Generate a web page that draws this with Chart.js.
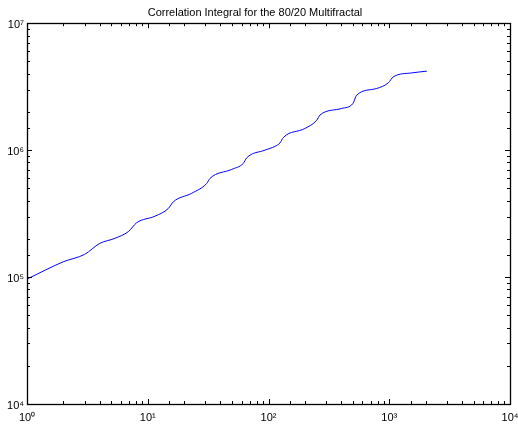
<!DOCTYPE html>
<html><head><meta charset="utf-8">
<script src="https://cdn.jsdelivr.net/npm/chart.js@4"></script>
<style>html,body{margin:0;padding:0;background:#fff}#wrap{width:518px;height:427px}</style>
</head><body><div id="wrap"><canvas id="c" width="518" height="427"></canvas></div>
<script>
const chartTitle = 'Correlation Integral for the 80/20 Multifractal';
const xValues = [1, 2, 3, 4, 5.35, 6.9, 8.1, 11.5, 14.8, 16.3, 23, 30.8, 32.8, 49.6, 61.8, 66, 93.5, 113, 124.5, 133, 200, 251, 267, 404, 500, 537, 787, 982, 1081, 1535, 2048];
const yValues = [9.64e4, 1.32e5, 1.51e5, 1.84e5, 2.02e5, 2.28e5, 2.68e5, 3.02e5, 3.47e5, 3.92e5, 4.56e5, 5.47e5, 5.99e5, 7.05e5, 7.86e5, 8.69e5, 1.0e6, 1.07e6, 1.14e6, 1.26e6, 1.48e6, 1.72e6, 1.89e6, 2.13e6, 2.33e6, 2.71e6, 3.06e6, 3.39e6, 3.78e6, 4.06e6, 4.19e6];
const xTickValues = [1, 10, 100, 1000, 10000];
const xTickLabels = ['10\u2070', '10\u00b9', '10\u00b2', '10\u00b3', '10\u2074'];
const yTickValues = [1e4, 1e5, 1e6, 1e7];
const yTickLabels = ['10\u2074', '10\u2075', '10\u2076', '10\u2077'];

const FONT = 'Liberation Sans, Arial, Helvetica, sans-serif';
function isMajor(v){ const l = Math.log10(v); return Math.abs(l - Math.round(l)) < 1e-9; }
function labelFor(v, vals, labels){
  for (let i = 0; i < vals.length; i++) if (Math.abs(Math.log10(v) - Math.log10(vals[i])) < 1e-9) return labels[i];
  return '';
}

const frame = {
  id: 'frame',
  afterDatasetsDraw(chart){
    const {ctx, chartArea: a, scales: {x, y}} = chart;
    ctx.save();
    ctx.strokeStyle = '#000';
    ctx.lineWidth = 1;
    ctx.beginPath();
    x.ticks.forEach(t => {
      const px = Math.round(x.getPixelForValue(t.value)) + 0.5;
      const L = isMajor(t.value) ? 5 : 3;
      ctx.moveTo(px, a.bottom); ctx.lineTo(px, a.bottom - L);
      ctx.moveTo(px, a.top); ctx.lineTo(px, a.top + L);
    });
    y.ticks.forEach(t => {
      const py = Math.round(y.getPixelForValue(t.value)) + 0.5;
      const L = isMajor(t.value) ? 5 : 3;
      ctx.moveTo(a.left, py); ctx.lineTo(a.left + L, py);
      ctx.moveTo(a.right, py); ctx.lineTo(a.right - L, py);
    });
    ctx.stroke();
    ctx.lineWidth = 1.3;
    ctx.strokeRect(Math.round(a.left) + 0.5, Math.round(a.top) + 0.5, Math.round(a.right - a.left), Math.round(a.bottom - a.top));
    ctx.restore();
  }
};

new Chart(document.getElementById('c'), {
  type: 'line',
  data: {
    datasets: [{
      data: xValues.map((v, i) => ({x: v, y: yValues[i]})),
      borderColor: '#0000ff',
      borderWidth: 1,
      pointRadius: 0,
      fill: false,
      cubicInterpolationMode: 'monotone'
    }]
  },
  options: {
    responsive: false,
    animation: false,
    layout: {padding: {left: 0, right: 8, top: 0, bottom: 0}},
    plugins: {
      legend: {display: false},
      tooltip: {enabled: false},
      title: {
        display: true,
        text: chartTitle,
        color: '#000',
        font: {family: FONT, size: 11, weight: 'normal'},
        padding: {top: 6, bottom: 4}
      }
    },
    scales: {
      x: {
        type: 'logarithmic',
        min: 1, max: 10000,
        grid: {display: false, drawTicks: false},
        border: {display: false},
        ticks: {
          autoSkip: false, maxRotation: 0, padding: 7,
          color: '#000',
          font: {family: FONT, size: 11},
          callback: v => labelFor(v, xTickValues, xTickLabels)
        },
        afterFit: s => { s.height = 23; s.paddingLeft = 0; s.paddingRight = 0; }
      },
      y: {
        type: 'logarithmic',
        min: 1e4, max: 1e7,
        grid: {display: false, drawTicks: false},
        border: {display: false},
        ticks: {
          autoSkip: false, padding: 3, labelOffset: 2,
          color: '#000',
          font: {family: FONT, size: 11},
          callback: v => labelFor(v, yTickValues, yTickLabels)
        },
        afterFit: s => { s.width = 27; s.paddingTop = 0; s.paddingBottom = 0; }
      }
    }
  },
  plugins: [frame]
});
</script>
</body></html>
